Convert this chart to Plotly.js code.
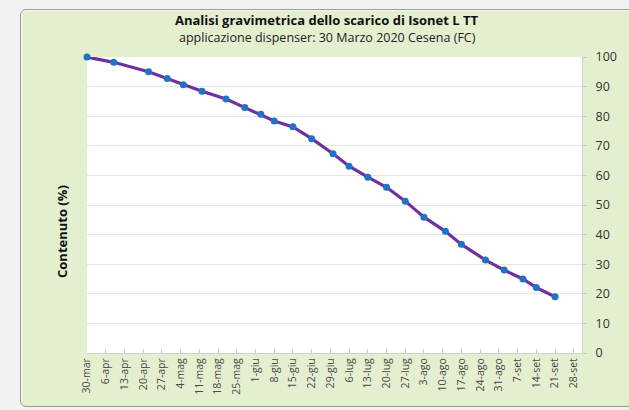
<!DOCTYPE html>
<html>
<head>
<meta charset="utf-8">
<script src="https://cdn.plot.ly/plotly-3.0.1.min.js"></script>
<style>
html,body{margin:0;padding:0;background:#f1f2f1;overflow:hidden;}
#panel{position:absolute;left:20px;top:9px;width:640px;height:396px;background:#e4efd0;
  border:1.5px solid #9a9a9a;border-radius:6px;box-shadow:inset 1px 1px 0 #f4f9ea;}
#chart{position:absolute;left:0;top:0;width:629px;height:410px;}
</style>
</head>
<body>
<div id="panel"></div>
<div id="chart"></div>
<script>
// Data
var dates = ["2020-03-30","2020-04-09","2020-04-22","2020-04-29","2020-05-05","2020-05-12","2020-05-21","2020-05-28","2020-06-03","2020-06-08","2020-06-15","2020-06-22","2020-06-30","2020-07-06","2020-07-13","2020-07-20","2020-07-27","2020-08-03","2020-08-11","2020-08-17","2020-08-26","2020-09-02","2020-09-09","2020-09-14","2020-09-21"];
var contenuto = [100,98.2,95.0,92.7,90.6,88.4,85.8,82.9,80.7,78.4,76.4,72.4,67.3,63.1,59.4,56.0,51.3,45.9,41.1,36.7,31.4,28.0,25.0,22.1,19.0];
var tickDates = ["2020-03-30","2020-04-06","2020-04-13","2020-04-20","2020-04-27","2020-05-04","2020-05-11","2020-05-18","2020-05-25","2020-06-01","2020-06-08","2020-06-15","2020-06-22","2020-06-29","2020-07-06","2020-07-13","2020-07-20","2020-07-27","2020-08-03","2020-08-10","2020-08-17","2020-08-24","2020-08-31","2020-09-07","2020-09-14","2020-09-21","2020-09-28"];
var tickLabels = ["30-mar","6-apr","13-apr","20-apr","27-apr","4-mag","11-mag","18-mag","25-mag","1-giu","8-giu","15-giu","22-giu","29-giu","6-lug","13-lug","20-lug","27-lug","3-ago","10-ago","17-ago","24-ago","31-ago","7-set","14-set","21-set","28-set"];
var yTicks = [0,10,20,30,40,50,60,70,80,90,100];

var trace = {
  x: dates, y: contenuto, type: 'scatter', mode: 'lines+markers',
  line: {color: '#7030a0', width: 3.2},
  marker: {color: '#1f72c4', size: 7},
  hoverinfo: 'skip', cliponaxis: false
};

var layout = {
  width: 629, height: 410,
  margin: {l: 87, r: 47, t: 57, b: 57},
  paper_bgcolor: 'rgba(0,0,0,0)',
  plot_bgcolor: '#ffffff',
  font: {family: 'Open Sans, Noto Sans, sans-serif', color: '#333333'},
  showlegend: false,
  xaxis: {
    type: 'date',
    range: ['2020-03-30', '2020-10-01 02:00'],
    tickvals: tickDates, ticktext: tickLabels,
    tickangle: -90,
    tickfont: {size: 10.5, color: '#4a4a4a', family: 'Open Sans, sans-serif'},
    ticks: 'inside', ticklen: 4, tickcolor: '#c8c8c8',
    showgrid: false, zeroline: false,
    showline: true, linecolor: '#d0d0d0', linewidth: 1
  },
  yaxis: {
    side: 'right', range: [0, 100],
    tickvals: yTicks,
    tickfont: {size: 12.5, color: '#333333'},
    ticks: 'outside', ticklen: 4, tickcolor: '#c8c8c8',
    showgrid: true, gridcolor: '#e6e6e6', gridwidth: 1,
    zeroline: false, showline: true, linecolor: '#d0d0d0', linewidth: 1,
    ticklabelstandoff: 6
  },
  annotations: [
    {text: '<b>Analisi gravimetrica dello scarico di Isonet L TT</b>', xref: 'paper', yref: 'paper',
     x: 0.485, y: 1.0 + (57-20)/296, xanchor: 'center', yanchor: 'middle', showarrow: false,
     font: {size: 13, color: '#111111'}},
    {text: 'applicazione dispenser: 30 Marzo 2020 Cesena (FC)', xref: 'paper', yref: 'paper',
     x: 0.485, y: 1.0 + (57-37)/296, xanchor: 'center', yanchor: 'middle', showarrow: false,
     font: {size: 12.5, color: '#222222'}},
    {text: '<b>Contenuto (%)</b>', xref: 'paper', yref: 'paper',
     x: (62-87)/495, y: (353-232)/296, xanchor: 'center', yanchor: 'middle', showarrow: false,
     textangle: -90, font: {size: 13, color: '#111111'}}
  ]
};

Plotly.newPlot('chart', [trace], layout, {staticPlot: true, displayModeBar: false});
</script>
</body>
</html>
